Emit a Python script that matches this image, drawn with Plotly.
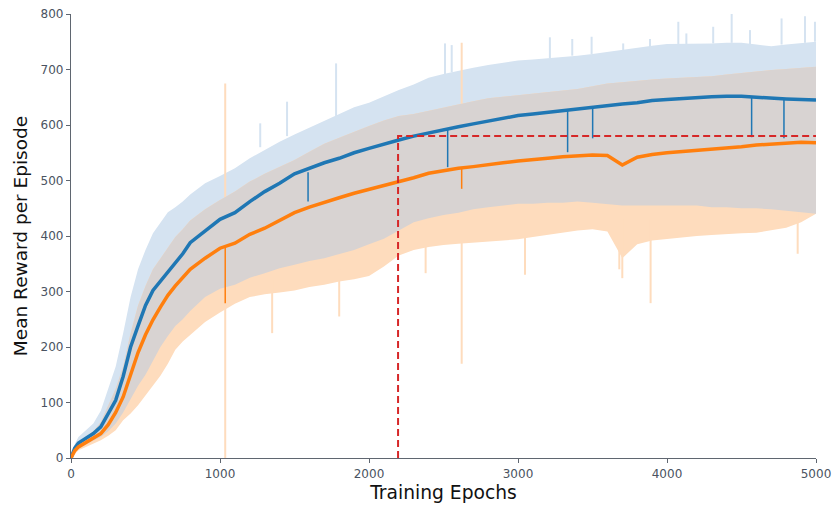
import numpy as np
import plotly.graph_objects as go

# ---------------- data ----------------
epochs = [0, 25, 50, 100, 150, 200, 250, 300, 350, 400, 450, 500, 550, 600, 650, 700, 750, 800,
          900, 1000, 1100, 1200, 1300, 1400, 1500, 1600, 1700, 1800, 1900, 2000, 2100, 2200,
          2300, 2400, 2500, 2600, 2700, 2800, 2900, 3000, 3100, 3200, 3300, 3400, 3500, 3600,
          3700, 3800, 3900, 4000, 4100, 4200, 4300, 4400, 4500, 4600, 4700, 4800, 4900, 5000]

blue_mean = [0, 18, 27, 35, 44, 56, 80, 104, 147, 200, 238, 275, 302, 318, 336, 352, 368, 388,
             410, 430, 442, 462, 480, 495, 512, 522, 532, 540, 550, 558, 566, 573,
             580, 586, 592, 597, 602, 607, 612, 617, 620, 623, 626, 630, 633, 636,
             638, 640, 644, 646, 648, 650, 651, 652, 652, 650, 648, 647, 646, 645]
blue_upper = [0, 25, 38, 50, 62, 85, 125, 165, 225, 290, 340, 375, 405, 425, 443, 452, 462, 475,
              495, 508, 522, 540, 555, 570, 583, 595, 608, 620, 632, 640, 652, 663,
              673, 685, 692, 698, 703, 708, 712, 716, 718, 720, 723, 725, 728, 732,
              736, 740, 743, 746, 746, 747, 747, 748, 748, 745, 742, 745, 748, 750]
blue_lower = [0, 12, 18, 25, 32, 38, 48, 62, 82, 105, 130, 150, 175, 200, 220, 238, 250, 265,
              290, 305, 312, 325, 333, 342, 348, 355, 360, 368, 375, 385, 395, 410,
              425, 432, 438, 442, 448, 452, 455, 458, 458, 460, 460, 462, 460, 458,
              455, 455, 455, 455, 456, 455, 452, 452, 450, 450, 448, 445, 442, 440]

orange_mean = [0, 13, 20, 28, 35, 44, 60, 82, 110, 152, 190, 222, 249, 272, 293, 310, 325, 340,
               360, 378, 387, 403, 414, 428, 442, 452, 461, 469, 477, 484, 490, 497,
               505, 513, 518, 522, 525, 529, 532, 535, 537, 540, 543, 545, 546, 545,
               528, 542, 547, 550, 552, 554, 556, 558, 561, 564, 566, 568, 569, 568]
orange_upper = [0, 18, 28, 38, 48, 65, 95, 125, 165, 225, 275, 310, 340, 360, 380, 398, 412, 428,
                448, 465, 480, 498, 512, 525, 537, 552, 566, 577, 588, 598, 608, 616,
                620, 626, 632, 638, 643, 648, 651, 654, 657, 660, 662, 665, 670, 675,
                677, 680, 682, 684, 685, 686, 688, 691, 694, 697, 699, 701, 703, 705]
orange_lower = [0, 8, 14, 20, 26, 32, 40, 50, 68, 80, 95, 112, 130, 148, 170, 195, 210, 222,
                245, 262, 278, 290, 295, 298, 302, 308, 312, 318, 322, 328, 345, 365,
                375, 380, 384, 386, 388, 390, 392, 394, 398, 402, 406, 410, 412, 408,
                360, 385, 392, 395, 398, 400, 402, 404, 405, 406, 410, 415, 425, 440]

# isolated spikes of the shaded bands
orange_spike_epochs = [1035, 2622, 2380, 3047, 3680, 3700, 3890, 4877, 1350, 1800]
orange_spike_low = [0, 170, 333, 330, 340, 324, 279, 368, 225, 255]
orange_spike_high = [675, 748, 420, 430, 420, 430, 430, 460, 320, 340]

blue_spike_epochs = [1270, 1450, 1779, 2510, 2555, 3214, 3364, 3494, 3706, 3886, 4076, 4130,
                     4310, 4434, 4557, 4769, 4926, 4993]
blue_spike_low = [560, 580, 615, 690, 695, 720, 725, 728, 735, 740, 746, 746,
                  747, 748, 745, 745, 748, 750]
blue_spike_high = [603, 642, 711, 747, 744, 758, 755, 759, 747, 755, 786, 765,
                   777, 800, 771, 792, 796, 786]

blue_dip_epochs = [1591, 2528, 3333, 3501, 4568, 4785]
blue_dip_top = [515, 592, 626, 633, 651, 647]
blue_dip_low = [462, 524, 551, 576, 578, 576]

orange_dip_epochs = [1035, 2622]
orange_dip_top = [380, 521]
orange_dip_low = [279, 485]

ref_epoch = 2195
ref_value = 580

# ---------------- figure ----------------
C_BLUE = "#1f77b4"
C_ORANGE = "#ff7f0e"
C_BLUE_BAND = "#d5e3f1"
C_ORANGE_BAND = "#fedcbd"
C_OVERLAP = "#d8d3d2"

x = np.array(epochs, dtype=float)
bu, bl = np.array(blue_upper, float), np.array(blue_lower, float)
ou, ol = np.array(orange_upper, float), np.array(orange_lower, float)
ov_top = np.minimum(bu, ou)
ov_bot = np.maximum(bl, ol)
ov_top = np.maximum(ov_top, ov_bot)

fig = go.Figure()


def band(lo, hi, color):
    fig.add_trace(go.Scatter(x=x, y=lo, mode="lines", line=dict(width=0, color=color),
                             hoverinfo="skip", showlegend=False))
    fig.add_trace(go.Scatter(x=x, y=hi, mode="lines", line=dict(width=0, color=color),
                             fill="tonexty", fillcolor=color, hoverinfo="skip", showlegend=False))


def spikes(ex, lo, hi, color, width):
    xs, ys = [], []
    for e, a, b in zip(ex, lo, hi):
        xs += [e, e, None]
        ys += [a, b, None]
    fig.add_trace(go.Scatter(x=xs, y=ys, mode="lines", line=dict(color=color, width=width),
                             hoverinfo="skip", showlegend=False))


band(bl, bu, C_BLUE_BAND)
spikes(blue_spike_epochs, blue_spike_low, blue_spike_high, C_BLUE_BAND, 2)
band(ol, ou, C_ORANGE_BAND)
spikes(orange_spike_epochs, orange_spike_low, orange_spike_high, C_ORANGE_BAND, 2)
band(ov_bot, ov_top, C_OVERLAP)

fig.add_trace(go.Scatter(x=x, y=blue_mean, mode="lines", line=dict(color=C_BLUE, width=3.5),
                         showlegend=False))
spikes(blue_dip_epochs, blue_dip_top, blue_dip_low, C_BLUE, 1.5)
fig.add_trace(go.Scatter(x=x, y=orange_mean, mode="lines", line=dict(color=C_ORANGE, width=3.5),
                         showlegend=False))
spikes(orange_dip_epochs, orange_dip_top, orange_dip_low, C_ORANGE, 1.5)

# reference dashed lines
fig.add_trace(go.Scatter(x=[ref_epoch, ref_epoch, epochs[-1]], y=[0, ref_value, ref_value],
                         mode="lines", line=dict(color="#d62728", width=2, dash="7px,4px"),
                         showlegend=False))

axis_common = dict(showgrid=False, zeroline=False, showline=True, linecolor="#5f6670",
                   linewidth=1.3, ticks="outside", ticklen=4, tickcolor="#5f6670",
                   automargin=False,
                   tickfont=dict(family="DejaVu Sans", size=12, color="#4a5361"))

fig.update_layout(
    width=833, height=505,
    margin=dict(l=71, r=17, t=14, b=47),
    plot_bgcolor="white", paper_bgcolor="white",
    xaxis=dict(range=[0, 5000], tickvals=[0, 1000, 2000, 3000, 4000, 5000],
               title=dict(text="Training Epochs", font=dict(family="DejaVu Sans", size=18.7,
                                                           color="#111111"), standoff=6),
               **axis_common),
    yaxis=dict(range=[0, 800], tickvals=[0, 100, 200, 300, 400, 500, 600, 700, 800],
               title=dict(text="Mean Reward per Episode", font=dict(family="DejaVu Sans", size=18.5,
                                                                   color="#111111"), standoff=8),
               **axis_common),
)

fig.write_html("out.html")
